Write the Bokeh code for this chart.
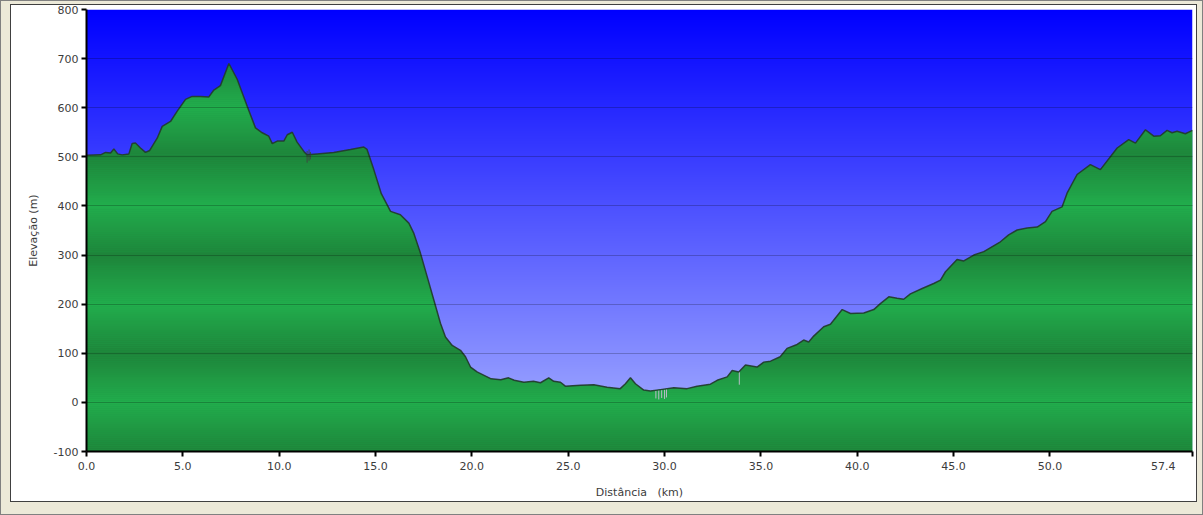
import numpy as np
from bokeh.plotting import figure
from bokeh.models import FixedTicker, NumeralTickFormatter, Range1d, InlineStyleSheet
from bokeh.embed import file_html
from bokeh.resources import INLINE

# distance along the route (km) and elevation (m)
km = [0.0, 0.73, 0.99, 1.25, 1.42, 1.62, 1.85, 2.2, 2.37, 2.54, 2.8, 3.06, 3.28,
      3.67, 3.93, 4.36, 4.71, 5.14, 5.48, 5.92, 6.35, 6.61, 6.95, 7.39, 7.82,
      8.34, 8.77, 9.12, 9.46, 9.64, 9.9, 10.24, 10.42, 10.68, 10.93, 11.28,
      11.45, 11.97, 12.83, 13.7, 14.39, 14.56, 14.91, 15.3, 15.78, 16.29, 16.73,
      16.99, 17.33, 17.68, 18.03, 18.37, 18.63, 18.98, 19.41, 19.67, 19.93,
      20.27, 21.0, 21.5, 21.9, 22.2, 22.7, 23.2, 23.56, 23.99, 24.25, 24.6,
      24.85, 25.64, 26.33, 27.02, 27.7, 27.97, 28.23, 28.49, 28.92, 29.27,
      29.79, 30.48, 31.17, 31.69, 32.38, 32.73, 33.25, 33.51, 33.85, 34.2,
      34.8, 35.15, 35.5, 36.0, 36.36, 36.88, 37.22, 37.48, 37.74, 38.26, 38.61,
      39.22, 39.65, 40.34, 40.86, 41.2, 41.64, 42.07, 42.41, 42.76, 43.37,
      43.97, 44.32, 44.58, 45.18, 45.53, 46.05, 46.57, 47.43, 47.86, 48.3,
      48.82, 49.34, 49.77, 50.11, 50.63, 50.89, 51.41, 52.1, 52.62, 53.49,
      54.09, 54.44, 54.96, 55.39, 55.73, 56.08, 56.34, 56.6, 57.03, 57.4]
elev = [503, 504, 509, 508, 516, 506, 504, 506, 527, 528, 518, 509, 513,
        538, 562, 572, 593, 617, 623, 623, 622, 636, 645, 690, 658,
        603, 559, 549, 542, 527, 532, 532, 545, 550, 530, 511,
        504, 506, 509, 515, 520, 515, 474, 425, 389, 382, 365,
        344, 304, 256, 208, 161, 133, 116, 106, 93, 72,
        62, 48, 46, 50, 45, 41, 43, 40, 50, 43, 41,
        33, 35, 36, 31, 28, 38, 50, 38, 25, 23,
        26, 30, 28, 33, 37, 45, 52, 65, 62, 76,
        72, 82, 84, 93, 110, 118, 127, 123, 135, 154, 159,
        189, 181, 182, 189, 201, 215, 212, 210, 221, 232,
        242, 249, 266, 291, 288, 300, 307, 327, 341, 351,
        355, 357, 368, 389, 398, 426, 464, 484, 474, 518,
        535, 528, 555, 542, 543, 554, 549, 552, 547, 554]

# small GPS glitches drawn as thin vertical strokes
spike_km = [11.45, 11.55, 11.62, 29.55, 29.7, 29.85, 30.0, 30.1, 33.88]
spike_top = [512, 515, 510, 24, 25, 25, 26, 27, 62]
spike_bottom = [488, 492, 495, 8, 6, 9, 7, 10, 36]
spike_color = ["#3d4a40"] * 3 + ["#b8bcc8"] * 6

x_ticks = [0, 5, 10, 15, 20, 25, 30, 35, 40, 45, 50, 57.4]
y_ticks = [-100, 0, 100, 200, 300, 400, 500, 600, 700, 800]

y_lo, y_hi = -100, 800
x_hi = 57.4

p = figure(width=1203, height=515, x_range=Range1d(0, x_hi), y_range=Range1d(y_lo, y_hi),
           output_backend="svg", toolbar_location=None,
           min_border_left=86, min_border_right=11, min_border_top=9, min_border_bottom=64)
p.outline_line_color = None
p.border_fill_color = "white"

# window frame: beige border with thin dark edges, drawn over the canvas edges
frame_css = InlineStyleSheet(css="""
:host::after {
  content: ""; position: absolute; left: 0; top: 0; right: 0; bottom: 0;
  box-sizing: border-box; border-style: solid; border-color: #ece9d8;
  border-width: 5px 7px 14px 11px; outline: 1px solid #808080; outline-offset: -1px;
  pointer-events: none; z-index: 10;
}
:host::before {
  content: ""; position: absolute; left: 10px; top: 4px; right: 6px; bottom: 13px;
  box-sizing: border-box; border: 1px solid #404040;
  pointer-events: none; z-index: 11;
}
""")
p.stylesheets = [frame_css]

# sky: blue gradient image behind the ground
n = y_hi - y_lo
t = np.linspace(0, 1, n)  # 0 at bottom, 1 at top
img = np.empty((n, 1), dtype=np.uint32)
view = img.view(dtype=np.uint8).reshape((n, 1, 4))
view[:, 0, 0] = (172 * (1 - t)).astype(np.uint8)
view[:, 0, 1] = (182 * (1 - t)).astype(np.uint8)
view[:, 0, 2] = 255
view[:, 0, 3] = 255
p.image_rgba(image=[img], x=0, y=y_lo, dw=x_hi, dh=n)


def crossings(xs, ys, level):
    # x positions where the profile passes through a given elevation
    out = []
    for i in range(len(xs) - 1):
        a, b = ys[i] - level, ys[i + 1] - level
        if a * b < 0:
            out.append(xs[i] + (level - ys[i]) / (ys[i + 1] - ys[i]) * (xs[i + 1] - xs[i]))
    return out


# ground: banded green, light at even hundreds, dark at odd hundreds
light = np.array([34, 174, 77])
dark = np.array([30, 132, 58])
p.varea(x=km, y1=elev, y2=y_lo, fill_color="#209c49")
step = 4
for lo in range(y_lo, max(elev) + step, step):
    hi = lo + step
    mid = lo + step / 2
    f = abs((mid % 200) - 100) / 100.0
    c = dark + f * (light - dark)
    col = "#%02x%02x%02x" % tuple(int(v) for v in c)
    xs = np.unique(np.concatenate([km, crossings(km, elev, lo), crossings(km, elev, hi)]))
    ys = np.interp(xs, km, elev)
    p.varea(x=xs, y1=np.clip(ys, lo, hi), y2=lo, fill_color=col)

p.segment(x0=spike_km, y0=spike_bottom, x1=spike_km, y1=spike_top, line_color=spike_color, line_width=1)
p.line(km, elev, line_color="#223a2c", line_width=1.5, line_alpha=0.9)

p.xgrid.visible = False
p.ygrid.ticker = FixedTicker(ticks=y_ticks)
p.ygrid.grid_line_color = "black"
p.ygrid.grid_line_alpha = 0.22
p.ygrid.level = "overlay"

p.xaxis.ticker = FixedTicker(ticks=x_ticks)
p.xaxis.formatter = NumeralTickFormatter(format="0.0")
# last label sits to the left of its tick, as in the original
p.xaxis.major_label_overrides = {x_hi: "57.4" + "\u00a0" * 8}
p.yaxis.ticker = FixedTicker(ticks=y_ticks)
p.yaxis.formatter = NumeralTickFormatter(format="0")
p.xaxis.axis_label = "Distância \u00a0 (km)"
p.yaxis.axis_label = "Elevação (m)"

for ax in (p.xaxis, p.yaxis):
    ax.axis_line_color = "black"
    ax.axis_line_width = 2
    ax.major_tick_line_color = "black"
    ax.major_tick_line_width = 2
    ax.major_tick_out = 5
    ax.major_tick_in = 0
    ax.minor_tick_line_color = None
    ax.major_label_text_font = "DejaVu Sans"
    ax.major_label_text_font_size = "11px"
    ax.major_label_text_color = "#3c3c3c"
    ax.major_label_standoff = 3
    ax.axis_label_text_font = "DejaVu Sans"
    ax.axis_label_text_font_size = "11px"
    ax.axis_label_text_font_style = "normal"
    ax.axis_label_text_color = "#3c3c3c"
p.yaxis.axis_label_standoff = 11
p.xaxis.axis_label_standoff = 10

open("out.html", "w").write(file_html(p, INLINE))
